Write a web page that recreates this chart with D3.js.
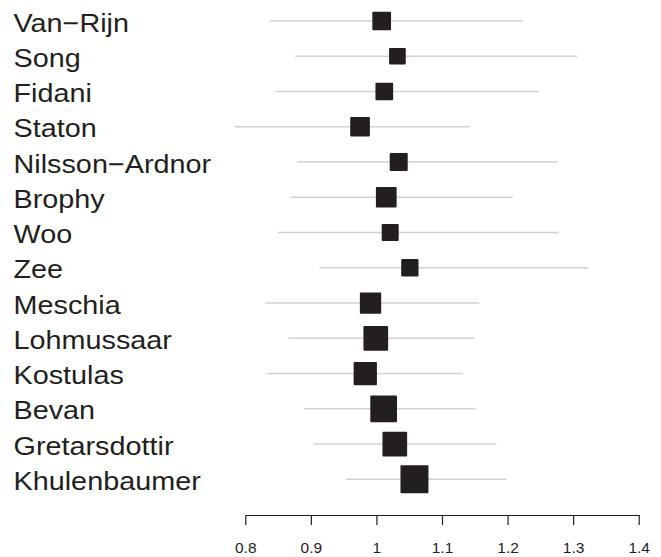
<!DOCTYPE html>
<html>
<head>
<meta charset="utf-8">
<script src="https://cdn.jsdelivr.net/npm/d3@7"></script>
<style>
  html, body { margin: 0; padding: 0; background: #ffffff; }
  svg { display: block; }
</style>
</head>
<body>
<svg id="chart" width="661" height="557"></svg>
<script>
const studies = ["Van\u2212Rijn", "Song", "Fidani", "Staton", "Nilsson\u2212Ardnor", "Brophy", "Woo", "Zee",
  "Meschia", "Lohmussaar", "Kostulas", "Bevan", "Gretarsdottir", "Khulenbaumer"];
const estimate = [1.008, 1.032, 1.012, 0.975, 1.034, 1.015, 1.021, 1.051, 0.991, 0.999, 0.983, 1.011, 1.028, 1.058];
const lower = [0.837, 0.876, 0.846, 0.784, 0.879, 0.869, 0.850, 0.913, 0.830, 0.866, 0.833, 0.890, 0.904, 0.953];
const upper = [1.224, 1.306, 1.248, 1.142, 1.276, 1.208, 1.278, 1.323, 1.157, 1.150, 1.132, 1.151, 1.183, 1.198];
const weight = [44.6, 35.6, 40.0, 49.5, 41.3, 54.7, 36.9, 38.2, 57.9, 77.8, 69.2, 90.9, 77.8, 100];
const tickValues = [0.8, 0.9, 1.0, 1.1, 1.2, 1.3, 1.4];

const data = studies.map((s, i) => ({ study: s, est: estimate[i], lo: lower[i], hi: upper[i], w: weight[i] }));

const svg = d3.select("#chart");
const ink = "#231f20";

const x = d3.scaleLinear().domain([0.8, 1.4]).range([245.3, 638.7]);
const y = d3.scalePoint().domain(studies).range([21, 479.3]);
const size = d3.scaleSqrt().domain([0, 100]).range([0, 28]);

// CI lines
svg.append("g").selectAll("line").data(data).join("line")
  .attr("x1", d => x(d.lo)).attr("x2", d => x(d.hi))
  .attr("y1", d => y(d.study)).attr("y2", d => y(d.study))
  .attr("stroke", "#d2d2d2").attr("stroke-width", 1.6);

// boxes
svg.append("g").selectAll("rect").data(data).join("rect")
  .attr("x", d => x(d.est) - size(d.w) / 2)
  .attr("y", d => y(d.study) - size(d.w) / 2)
  .attr("width", d => size(d.w)).attr("height", d => size(d.w))
  .attr("rx", 1).attr("fill", ink);

// labels
const lab = svg.append("g");
lab.selectAll("text").data(data).join("text")
  .attr("transform", d => `translate(13.5,${y(d.study) + 10.7}) scale(1.125,1)`)
  .attr("font-family", "'Liberation Sans', Arial, Helvetica, sans-serif")
  .attr("font-size", "25.6px")
  .attr("fill", ink)
  .text(d => d.study);

// axis
const axis = d3.axisBottom(x).tickValues(tickValues).tickSize(10).tickSizeOuter(0).tickPadding(17)
  .tickFormat(d => d3.format("")(+d.toFixed(1)));
const ag = svg.append("g").attr("transform", "translate(0,515)").call(axis);
ag.select(".domain").attr("stroke", ink).attr("stroke-width", 1.2);
ag.selectAll(".tick line").attr("stroke", ink).attr("stroke-width", 1.2);
ag.selectAll(".tick text")
  .attr("font-family", "'Liberation Sans', Arial, Helvetica, sans-serif")
  .attr("font-size", "15.5px")
  .attr("fill", ink);
</script>
</body>
</html>
